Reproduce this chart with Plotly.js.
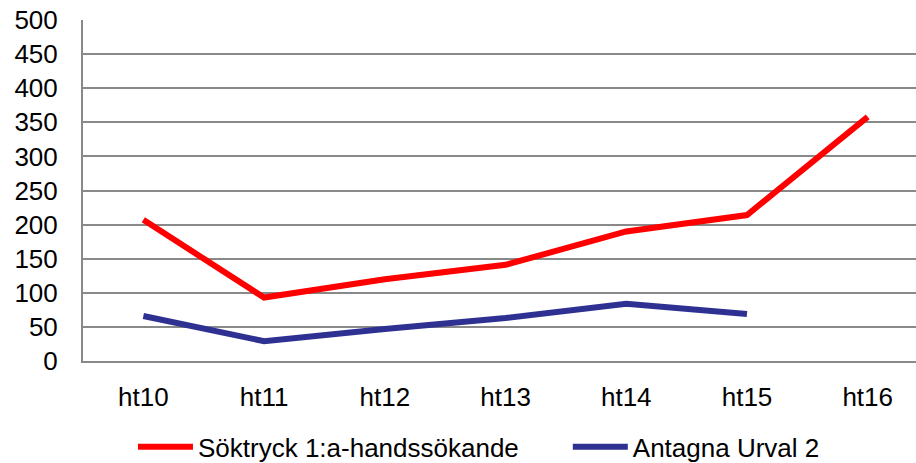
<!DOCTYPE html>
<html>
<head>
<meta charset="utf-8">
<script src="https://cdn.plot.ly/plotly-3.0.1.min.js"></script>
<style>html,body{margin:0;padding:0;background:#fff;}#chart{width:916px;height:463px;}</style>
</head>
<body>
<div id="chart"></div>
<script>
var categories = ["ht10", "ht11", "ht12", "ht13", "ht14", "ht15", "ht16"];
var soktryck = [207, 93, 120, 141, 190, 214, 358];
var antagna = [66, 29, 47, 63, 84, 69];
var seriesNames = ["Söktryck 1:a-handssökande", "Antagna Urval 2"];
var yTicks = [0, 50, 100, 150, 200, 250, 300, 350, 400, 450, 500];

var traces = [
  {x: categories, y: soktryck, name: seriesNames[0], type: 'scatter', mode: 'lines',
   line: {color: '#FF0000', width: 6}, legend: 'legend'},
  {x: categories.slice(0, antagna.length), y: antagna, name: seriesNames[1], type: 'scatter', mode: 'lines',
   line: {color: '#2E3192', width: 6}, legend: 'legend2'}
];

var legendBase = {orientation: 'h', xanchor: 'left', y: -0.252, yanchor: 'middle',
                  font: {size: 26}, itemwidth: 55, bgcolor: 'rgba(0,0,0,0)'};

var layout = {
  width: 916, height: 463,
  margin: {l: 83, r: 0, t: 20, b: 102, autoexpand: false},
  paper_bgcolor: '#fff', plot_bgcolor: '#fff',
  font: {family: 'Liberation Sans, Arial, sans-serif', size: 26, color: '#000'},
  xaxis: {type: 'category', range: [-0.5, 6.4], showgrid: false, zeroline: false,
          showline: true, linecolor: '#898989', linewidth: 2, ticks: '', ticklabelstandoff: 12,
          tickfont: {size: 26}},
  yaxis: {range: [0, 500], tickvals: yTicks, showgrid: true, gridcolor: '#898989', gridwidth: 2,
          zeroline: false, showline: true, linecolor: '#898989', linewidth: 2, ticks: '',
          ticklabelstandoff: 18, tickfont: {size: 26}},
  showlegend: true,
  legend: Object.assign({}, legendBase, {x: 0.06}),
  legend2: Object.assign({}, legendBase, {x: 0.582})
};

Plotly.newPlot('chart', traces, layout, {displayModeBar: false, staticPlot: true});
</script>
</body>
</html>
